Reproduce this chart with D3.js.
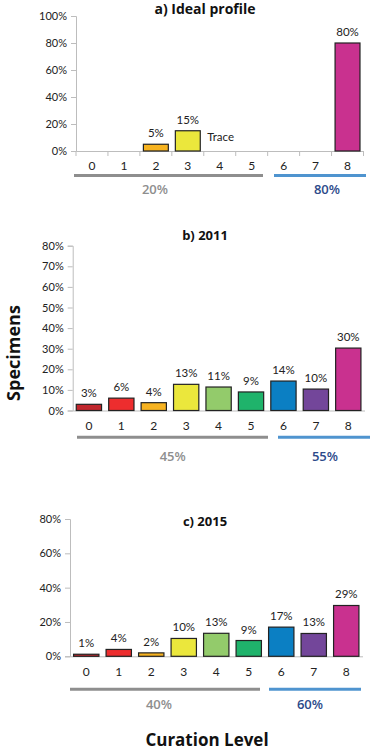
<!DOCTYPE html>
<html><head><meta charset="utf-8">
<script src="https://cdn.jsdelivr.net/npm/d3@7"></script>
<style>
html,body{margin:0;padding:0;background:#fff;}
svg{display:block;}
</style></head>
<body>
<script>
// ---- data ----
const categories = ["0","1","2","3","4","5","6","7","8"];
const barColors = ["#c1272d","#ed2d2e","#f7b320","#ebe73c","#93cb6b","#1fb36b","#0b7fc3","#73469a","#c9318f"];

const idealValues = [0, 0, 5, 15, 0, 0, 0, 0, 80];
const idealLabels = ["", "", "5%", "15%", "", "", "", "", "80%"];
const values2011 = [3, 6, 3.8, 12.7, 11.4, 9, 14.3, 10.4, 30.3];
const labels2011 = ["3%","6%","4%","13%","11%","9%","14%","10%","30%"];
const values2015 = [1.2, 4, 2, 10.4, 13.4, 9.2, 17, 13.3, 29.6];
const labels2015 = ["1%","4%","2%","10%","13%","9%","17%","13%","29%"];

const groupLabelsIdeal = ["20%", "80%"];
const groupLabels2011 = ["45%", "55%"];
const groupLabels2015 = ["40%", "60%"];

const ticksIdeal = [0, 20, 40, 60, 80, 100];
const ticks2011 = [0, 10, 20, 30, 40, 50, 60, 70, 80];
const ticks2015 = [0, 20, 40, 60, 80];

const titles = ["a) Ideal profile", "b) 2011", "c) 2015"];

// ---- layout ----
const W = 373, H = 750;
const svg = d3.select("body").append("svg").attr("width", W).attr("height", H);
svg.append("rect").attr("width", W).attr("height", H).attr("fill", "#fff");

const FONT = "Lato, 'Open Sans', sans-serif";
const BOLD = "'Open Sans', sans-serif";

const panels = [
  {title: titles[0], values: idealValues, labels: idealLabels, ticks: ticksIdeal, max: 100,
   x0: 76, x1: 363.5, yTop: 16, yBot: 151, titleY: 14, titleSize: 14, catY: 170, lineY: 175.5, groupY: 194,
   groups: groupLabelsIdeal, xTicks: true, trace: true,
   gLine: [74, 263, 274, 366], gText: [155, 327]},
  {title: titles[1], values: values2011, labels: labels2011, ticks: ticks2011, max: 80,
   x0: 72.7, x1: 364.5, yTop: 245.7, yBot: 410.5, titleY: 240, titleSize: 13, catY: 430, lineY: 437.3, groupY: 461,
   groups: groupLabels2011, xTicks: false, trace: false,
   gLine: [77, 268, 278, 370], gText: [172.7, 325]},
  {title: titles[2], values: values2015, labels: labels2015, ticks: ticks2015, max: 80,
   x0: 70, x1: 362.5, yTop: 519, yBot: 656.3, titleY: 526, titleSize: 13, catY: 676, lineY: 689.3, groupY: 709,
   groups: groupLabels2015, xTicks: false, trace: false,
   gLine: [70, 260, 269, 361], gText: [159, 310]}
];

panels.forEach(p => {
  const g = svg.append("g");
  const x = d3.scaleBand().domain(categories).range([p.x0, p.x1]).paddingInner(0.22).paddingOuter(0.11);
  const y = d3.scaleLinear().domain([0, p.max]).range([p.yBot, p.yTop]);

  // y axis
  const yAxis = d3.axisLeft(y).tickValues(p.ticks).tickFormat(d => d + "%").tickSize(5).tickPadding(4);
  const ya = g.append("g").attr("transform", `translate(${p.x0},0)`).call(yAxis);
  ya.selectAll("path,line").attr("stroke", "#bdbdbd");
  ya.selectAll("text").attr("font-family", FONT).attr("font-size", "11px").attr("fill", "#222");

  // x axis baseline
  const xa = g.append("g").attr("transform", `translate(0,${p.yBot})`)
    .call(d3.axisBottom(x).tickSize(0).tickPadding(0));
  xa.select(".domain").attr("stroke", "#bdbdbd");
  xa.selectAll(".tick text").remove();
  if (p.xTicks) {
    const bounds = categories.map(c => x(c) - x.step() * x.paddingInner() / 2).concat([p.x1]);
    g.selectAll(".xt").data(bounds).enter().append("line")
      .attr("x1", d => d).attr("x2", d => d).attr("y1", p.yBot).attr("y2", p.yBot + 5)
      .attr("stroke", "#bdbdbd");
  }

  // category labels
  g.selectAll(".cat").data(categories).enter().append("text")
    .attr("x", d => x(d) + x.bandwidth() / 2).attr("y", p.catY)
    .attr("text-anchor", "middle").attr("font-family", FONT).attr("font-size", "12px").attr("fill", "#222")
    .text(d => d);

  // bars
  const rows = categories.map((c, i) => ({c, v: p.values[i], l: p.labels[i], col: barColors[i]}));
  g.selectAll(".bar").data(rows.filter(r => r.v > 0)).enter().append("rect")
    .attr("x", d => x(d.c)).attr("width", x.bandwidth())
    .attr("y", d => y(d.v)).attr("height", d => p.yBot - y(d.v))
    .attr("fill", d => d.col).attr("stroke", "#222").attr("stroke-width", 1.2);

  g.selectAll(".vl").data(rows.filter(r => r.l)).enter().append("text")
    .attr("x", d => x(d.c) + x.bandwidth() / 2).attr("y", d => y(d.v) - 7)
    .attr("text-anchor", "middle").attr("font-family", FONT).attr("font-size", "11.5px").attr("fill", "#222")
    .text(d => d.l);

  if (p.trace) {
    g.append("text").attr("x", x("3") + x.bandwidth() + 7).attr("y", y(0) - 10)
      .attr("font-family", FONT).attr("font-size", "11.5px").attr("fill", "#222").text("Trace");
  }

  // title
  g.append("text").attr("x", 205).attr("y", p.titleY).attr("text-anchor", "middle")
    .attr("font-family", BOLD).attr("font-weight", "bold").attr("font-size", p.titleSize + "px").attr("fill", "#111")
    .text(p.title);

  // group lines
  g.append("line").attr("x1", p.gLine[0]).attr("x2", p.gLine[1]).attr("y1", p.lineY).attr("y2", p.lineY)
    .attr("stroke", "#8e8e8e").attr("stroke-width", 3);
  g.append("line").attr("x1", p.gLine[2]).attr("x2", p.gLine[3]).attr("y1", p.lineY).attr("y2", p.lineY)
    .attr("stroke", "#4f94cf").attr("stroke-width", 3);
  g.append("text").attr("x", p.gText[0]).attr("y", p.groupY).attr("text-anchor", "middle")
    .attr("font-family", BOLD).attr("font-weight", 600).attr("font-size", "13px").attr("fill", "#8e8e8e")
    .text(p.groups[0]);
  g.append("text").attr("x", p.gText[1]).attr("y", p.groupY).attr("text-anchor", "middle")
    .attr("font-family", BOLD).attr("font-weight", 600).attr("font-size", "13px").attr("fill", "#2c4a8a")
    .text(p.groups[1]);
});

// axis titles
svg.append("text").attr("transform", "translate(20,353) rotate(-90)").attr("text-anchor", "middle")
  .attr("font-family", BOLD).attr("font-weight", "bold").attr("font-size", "18px").attr("fill", "#111")
  .text("Specimens");
svg.append("text").attr("x", 207).attr("y", 746).attr("text-anchor", "middle")
  .attr("font-family", BOLD).attr("font-weight", "bold").attr("font-size", "17px").attr("fill", "#111")
  .text("Curation Level");
</script>
</body></html>
